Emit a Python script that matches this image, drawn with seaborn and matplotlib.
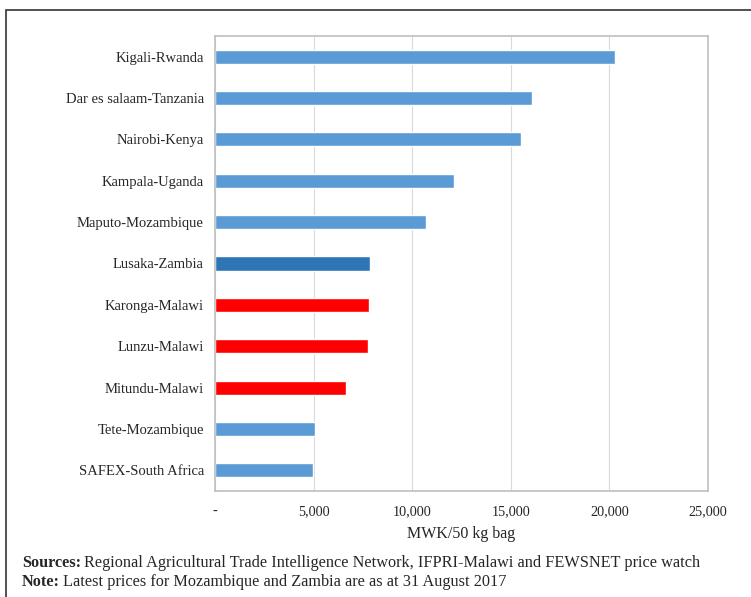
import matplotlib
matplotlib.use('Agg')
import matplotlib.pyplot as plt
import seaborn as sns
import pandas as pd
from matplotlib.patches import Rectangle

markets = ['Kigali-Rwanda', 'Dar es salaam-Tanzania', 'Nairobi-Kenya', 'Kampala-Uganda',
           'Maputo-Mozambique', 'Lusaka-Zambia', 'Karonga-Malawi', 'Lunzu-Malawi',
           'Mitundu-Malawi', 'Tete-Mozambique', 'SAFEX-South Africa']
prices = [20300, 16100, 15500, 12100, 10700, 7850, 7800, 7750, 6650, 5050, 4950]
bar_colors = ['#5B9BD5'] * 5 + ['#2E75B6'] + ['#FF0000'] * 3 + ['#5B9BD5'] * 2
xticks = [0, 5000, 10000, 15000, 20000, 25000]
xtick_labels = ['-', '5,000', '10,000', '15,000', '20,000', '25,000']

df = pd.DataFrame({'market': markets, 'price': prices})

sns.set_style('white')
plt.rcParams['font.family'] = ['Liberation Serif', 'DejaVu Serif']

fig = plt.figure(figsize=(7.51, 5.97), dpi=100)
ax = fig.add_axes([215 / 751, 1 - 491 / 597, 493 / 751, 455 / 597])

sns.barplot(data=df, x='price', y='market', hue='market', palette=bar_colors,
            legend=False, width=0.34, saturation=1, ax=ax, orient='h')

ax.set_xlim(0, 25000)
ax.set_xticks(xticks)
ax.set_xticklabels(xtick_labels, fontsize=10.3)
ax.tick_params(axis='y', labelsize=10.5, length=0, pad=8)
ax.tick_params(axis='x', length=0, pad=10)
ax.set_ylabel('')
ax.set_xlabel('MWK/50 kg bag', fontsize=11.5, labelpad=6)
ax.grid(axis='x', color='#D9D9D9', linewidth=0.8)
ax.set_axisbelow(True)
for s in ax.spines.values():
    s.set_color('#BFBFBF')
    s.set_linewidth(1.2)

# outer frame
fig.patches.append(Rectangle((6 / 751, -0.1), 1.2, 1 - 10 / 597 + 0.1,
                             transform=fig.transFigure, fill=False,
                             edgecolor='#333333', linewidth=1.2))

# footnotes: bold label followed by normal text
renderer = fig.canvas.get_renderer()
notes = [('Sources:', 'Regional Agricultural Trade Intelligence Network, IFPRI-Malawi and FEWSNET price watch', 563),
         ('Note:', 'Latest prices for Mozambique and Zambia are as at 31 August 2017', 582)]
for label, body, ypix in notes:
    t = fig.text(22 / 751, 1 - ypix / 597, label, fontsize=11.7, va='center', fontweight='bold')
    w = t.get_window_extent(renderer).width
    fig.text((22 + w + 3) / 751, 1 - ypix / 597, body, fontsize=11.7, va='center')

fig.savefig('out.png', dpi=100)
plt.close(fig)
